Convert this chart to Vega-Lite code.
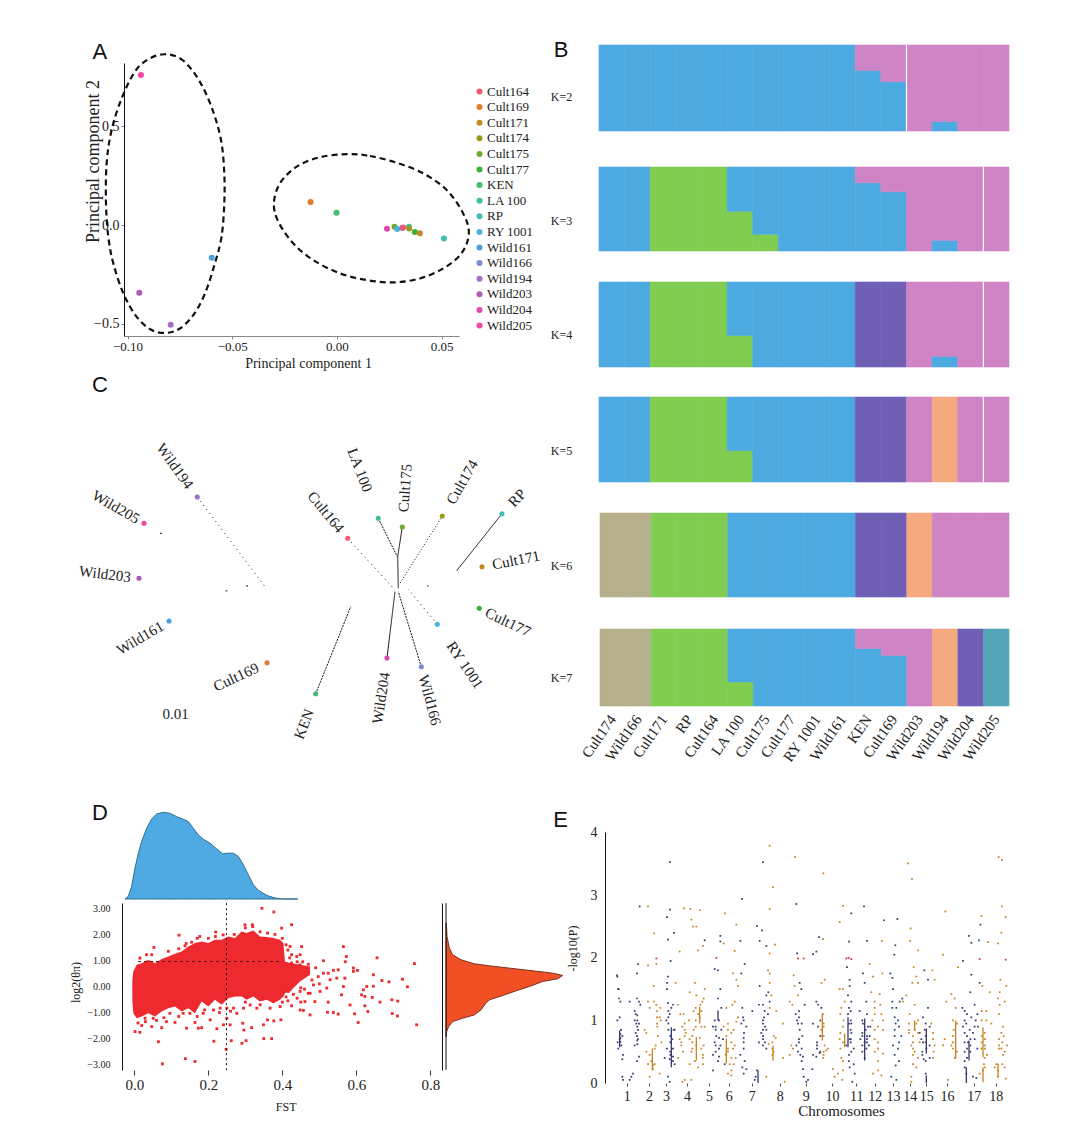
{
"$schema":"https://vega.github.io/schema/vega-lite/v6.json",
"width":1083,"height":1137,"padding":0,"autosize":{"type":"none"},"background":"white",
"config":{"view":{"stroke":null},"font":"Liberation Serif","axis":{"grid":false,"labelFont":"Liberation Serif","titleFont":"Liberation Serif","titleFontWeight":"normal","labelColor":"#222","titleColor":"#222"}},
"resolve":{"scale":{"x":"independent","y":"independent","color":"independent","stroke":"independent","strokeDash":"independent","angle":"independent"},"axis":{"x":"independent","y":"independent"},"legend":{"color":"independent"}},
"datasets":{
"pca":[
{"sample":"Wild205","pc1":-0.0936,"pc2":0.761},{"sample":"Wild161","pc1":-0.0598,"pc2":-0.166},{"sample":"Wild203","pc1":-0.0944,"pc2":-0.344},{"sample":"Wild194","pc1":-0.0794,"pc2":-0.506},{"sample":"Cult169","pc1":-0.0126,"pc2":0.117},{"sample":"KEN","pc1":-0.0002,"pc2":0.062},{"sample":"Wild204","pc1":0.0239,"pc2":-0.019},{"sample":"Cult175","pc1":0.0275,"pc2":-0.009},{"sample":"RY 1001","pc1":0.0288,"pc2":-0.02},{"sample":"Wild166","pc1":0.0312,"pc2":-0.015},{"sample":"Cult164","pc1":0.0316,"pc2":-0.012},{"sample":"LA 100","pc1":0.0344,"pc2":-0.009},{"sample":"Cult174","pc1":0.0345,"pc2":-0.017},{"sample":"Cult177","pc1":0.0372,"pc2":-0.036},{"sample":"Cult171","pc1":0.0396,"pc2":-0.042},{"sample":"RP","pc1":0.0511,"pc2":-0.068}],
"ellipses":[
{"e":"wild","i":0,"pc1":-0.0825,"pc2":0.8665},{"e":"wild","i":1,"pc1":-0.075,"pc2":0.846},{"e":"wild","i":2,"pc1":-0.0686,"pc2":0.778},{"e":"wild","i":3,"pc1":-0.063,"pc2":0.677},{"e":"wild","i":4,"pc1":-0.0583,"pc2":0.55},{"e":"wild","i":5,"pc1":-0.0551,"pc2":0.415},{"e":"wild","i":6,"pc1":-0.0538,"pc2":0.262},{"e":"wild","i":7,"pc1":-0.0538,"pc2":0.11},{"e":"wild","i":8,"pc1":-0.0551,"pc2":-0.059},{"e":"wild","i":9,"pc1":-0.0583,"pc2":-0.195},{"e":"wild","i":10,"pc1":-0.063,"pc2":-0.347},{"e":"wild","i":11,"pc1":-0.0686,"pc2":-0.457},{"e":"wild","i":12,"pc1":-0.075,"pc2":-0.525},{"e":"wild","i":13,"pc1":-0.0813,"pc2":-0.547},{"e":"wild","i":14,"pc1":-0.0885,"pc2":-0.533},{"e":"wild","i":15,"pc1":-0.0957,"pc2":-0.465},{"e":"wild","i":16,"pc1":-0.102,"pc2":-0.347},{"e":"wild","i":17,"pc1":-0.1068,"pc2":-0.195},{"e":"wild","i":18,"pc1":-0.1092,"pc2":-0.059},{"e":"wild","i":19,"pc1":-0.1103,"pc2":0.11},{"e":"wild","i":20,"pc1":-0.11,"pc2":0.313},{"e":"wild","i":21,"pc1":-0.1076,"pc2":0.482},{"e":"wild","i":22,"pc1":-0.1028,"pc2":0.643},{"e":"wild","i":23,"pc1":-0.0965,"pc2":0.778},{"e":"wild","i":24,"pc1":-0.0901,"pc2":0.841},
{"e":"cult","i":0,"pc1":0.0054,"pc2":0.36},{"e":"cult","i":1,"pc1":0.0158,"pc2":0.35},{"e":"cult","i":2,"pc1":0.0285,"pc2":0.316},{"e":"cult","i":3,"pc1":0.0412,"pc2":0.262},{"e":"cult","i":4,"pc1":0.0524,"pc2":0.178},{"e":"cult","i":5,"pc1":0.0603,"pc2":0.059},{"e":"cult","i":6,"pc1":0.063,"pc2":-0.042},{"e":"cult","i":7,"pc1":0.0595,"pc2":-0.144},{"e":"cult","i":8,"pc1":0.0508,"pc2":-0.22},{"e":"cult","i":9,"pc1":0.0396,"pc2":-0.271},{"e":"cult","i":10,"pc1":0.0269,"pc2":-0.291},{"e":"cult","i":11,"pc1":0.0142,"pc2":-0.279},{"e":"cult","i":12,"pc1":0.0014,"pc2":-0.245},{"e":"cult","i":13,"pc1":-0.0113,"pc2":-0.178},{"e":"cult","i":14,"pc1":-0.0209,"pc2":-0.093},{"e":"cult","i":15,"pc1":-0.028,"pc2":0.017},{"e":"cult","i":16,"pc1":-0.0301,"pc2":0.11},{"e":"cult","i":17,"pc1":-0.0272,"pc2":0.212},{"e":"cult","i":18,"pc1":-0.0192,"pc2":0.296},{"e":"cult","i":19,"pc1":-0.0081,"pc2":0.344}],
"treeTips":[
{"sample":"Wild194","x":127.3,"y":117,"tx":105,"ty":86},{"sample":"Wild205","x":74,"y":143.3,"tx":46,"ty":127},{"sample":"Wild203","x":69,"y":198.3,"tx":35,"ty":194},{"sample":"Wild161","x":99,"y":241,"tx":70,"ty":258},{"sample":"Cult169","x":197,"y":282.7,"tx":166,"ty":297},{"sample":"KEN","x":245.7,"y":313.7,"tx":234,"ty":344},{"sample":"Wild204","x":317,"y":278,"tx":311,"ty":318},{"sample":"Wild166","x":351.3,"y":286.7,"tx":360,"ty":320},{"sample":"RY 1001","x":367.3,"y":244.3,"tx":395,"ty":285},{"sample":"Cult177","x":409.3,"y":228.3,"tx":438,"ty":242},{"sample":"Cult171","x":412,"y":186.7,"tx":446,"ty":180},{"sample":"RP","x":432,"y":133.7,"tx":447,"ty":118},{"sample":"Cult174","x":372.3,"y":136,"tx":392,"ty":102},{"sample":"Cult175","x":332.3,"y":147,"tx":335,"ty":108},{"sample":"LA 100","x":308.3,"y":138.3,"tx":290,"ty":90},{"sample":"Cult164","x":277.7,"y":158.3,"tx":256,"ty":132}],
"treeBranches":[
{"b":"Wild194","o":0,"x":127.3,"y":117,"support":"low"},{"b":"Wild194","o":1,"x":195,"y":206.7,"support":"low"},
{"b":"Wild205","o":0,"x":90,"y":153.3,"support":"high"},{"b":"Wild205","o":1,"x":92,"y":153.3,"support":"high"},
{"b":"Wild203a","o":0,"x":155.5,"y":211,"support":"high"},{"b":"Wild203a","o":1,"x":157.5,"y":210.7,"support":"high"},
{"b":"Wild203b","o":0,"x":176,"y":206,"support":"high"},{"b":"Wild203b","o":1,"x":178,"y":206,"support":"high"},
{"b":"KEN","o":0,"x":245.7,"y":313.7,"support":"mid"},{"b":"KEN","o":1,"x":280.7,"y":226.7,"support":"mid"},
{"b":"RP","o":0,"x":432,"y":133.7,"support":"high"},{"b":"RP","o":1,"x":386.7,"y":190.7,"support":"high"},
{"b":"Cult164","o":0,"x":277.7,"y":158.3,"support":"low"},{"b":"Cult164","o":1,"x":325,"y":210,"support":"low"},
{"b":"LA 100","o":0,"x":308.3,"y":138.3,"support":"mid"},{"b":"LA 100","o":1,"x":327.3,"y":176.7,"support":"mid"},
{"b":"Cult175","o":0,"x":332.3,"y":147,"support":"high"},{"b":"Cult175","o":1,"x":327.7,"y":176.7,"support":"high"},{"b":"Cult175","o":2,"x":328.3,"y":208.3,"support":"high"},
{"b":"Cult174","o":0,"x":372.3,"y":136,"support":"fine"},{"b":"Cult174","o":1,"x":330,"y":203.3,"support":"fine"},
{"b":"Wild204","o":0,"x":317,"y":278,"support":"high"},{"b":"Wild204","o":1,"x":325,"y":211.7,"support":"high"},
{"b":"Wild166","o":0,"x":351.3,"y":286.7,"support":"mid"},{"b":"Wild166","o":1,"x":328.3,"y":211.7,"support":"mid"},
{"b":"RY 1001","o":0,"x":367.3,"y":244.3,"support":"low"},{"b":"RY 1001","o":1,"x":338.3,"y":209.3,"support":"low"},
{"b":"Cult171","o":0,"x":357,"y":206,"support":"high"},{"b":"Cult171","o":1,"x":358.5,"y":206,"support":"high"}],
"structure":[
{"K":2,"s":"Cult174","c":"C3","q":1},{"K":2,"s":"Wild166","c":"C3","q":1},{"K":2,"s":"Cult171","c":"C3","q":1},{"K":2,"s":"RP","c":"C3","q":1},{"K":2,"s":"Cult164","c":"C3","q":1},{"K":2,"s":"LA 100","c":"C3","q":1},{"K":2,"s":"Cult175","c":"C3","q":1},{"K":2,"s":"Cult177","c":"C3","q":1},{"K":2,"s":"RY 1001","c":"C3","q":1},{"K":2,"s":"Wild161","c":"C3","q":1},{"K":2,"s":"KEN","c":"C3","q":0.705},{"K":2,"s":"KEN","c":"C5","q":0.295},{"K":2,"s":"Cult169","c":"C3","q":0.574},{"K":2,"s":"Cult169","c":"C5","q":0.426},{"K":2,"s":"Wild203","c":"C5","q":1},{"K":2,"s":"Wild194","c":"C3","q":0.11},{"K":2,"s":"Wild194","c":"C5","q":0.89},{"K":2,"s":"Wild204","c":"C5","q":1},{"K":2,"s":"Wild205","c":"C5","q":1},
{"K":3,"s":"Cult174","c":"C3","q":1},{"K":3,"s":"Wild166","c":"C3","q":1},{"K":3,"s":"Cult171","c":"C2","q":1},{"K":3,"s":"RP","c":"C2","q":1},{"K":3,"s":"Cult164","c":"C2","q":1},{"K":3,"s":"LA 100","c":"C2","q":0.472},{"K":3,"s":"LA 100","c":"C3","q":0.528},{"K":3,"s":"Cult175","c":"C2","q":0.198},{"K":3,"s":"Cult175","c":"C3","q":0.802},{"K":3,"s":"Cult177","c":"C3","q":1},{"K":3,"s":"RY 1001","c":"C3","q":1},{"K":3,"s":"Wild161","c":"C3","q":1},{"K":3,"s":"KEN","c":"C3","q":0.813},{"K":3,"s":"KEN","c":"C5","q":0.187},{"K":3,"s":"Cult169","c":"C3","q":0.706},{"K":3,"s":"Cult169","c":"C5","q":0.294},{"K":3,"s":"Wild203","c":"C5","q":1},{"K":3,"s":"Wild194","c":"C3","q":0.127},{"K":3,"s":"Wild194","c":"C5","q":0.873},{"K":3,"s":"Wild204","c":"C5","q":1},{"K":3,"s":"Wild205","c":"C5","q":1},
{"K":4,"s":"Cult174","c":"C3","q":1},{"K":4,"s":"Wild166","c":"C3","q":1},{"K":4,"s":"Cult171","c":"C2","q":1},{"K":4,"s":"RP","c":"C2","q":1},{"K":4,"s":"Cult164","c":"C2","q":1},{"K":4,"s":"LA 100","c":"C2","q":0.37},{"K":4,"s":"LA 100","c":"C3","q":0.63},{"K":4,"s":"Cult175","c":"C3","q":1},{"K":4,"s":"Cult177","c":"C3","q":1},{"K":4,"s":"RY 1001","c":"C3","q":1},{"K":4,"s":"Wild161","c":"C3","q":1},{"K":4,"s":"KEN","c":"C4","q":1},{"K":4,"s":"Cult169","c":"C4","q":1},{"K":4,"s":"Wild203","c":"C5","q":1},{"K":4,"s":"Wild194","c":"C3","q":0.126},{"K":4,"s":"Wild194","c":"C5","q":0.874},{"K":4,"s":"Wild204","c":"C5","q":1},{"K":4,"s":"Wild205","c":"C5","q":1},
{"K":5,"s":"Cult174","c":"C3","q":1},{"K":5,"s":"Wild166","c":"C3","q":1},{"K":5,"s":"Cult171","c":"C2","q":1},{"K":5,"s":"RP","c":"C2","q":1},{"K":5,"s":"Cult164","c":"C2","q":1},{"K":5,"s":"LA 100","c":"C2","q":0.37},{"K":5,"s":"LA 100","c":"C3","q":0.63},{"K":5,"s":"Cult175","c":"C3","q":1},{"K":5,"s":"Cult177","c":"C3","q":1},{"K":5,"s":"RY 1001","c":"C3","q":1},{"K":5,"s":"Wild161","c":"C3","q":1},{"K":5,"s":"KEN","c":"C4","q":1},{"K":5,"s":"Cult169","c":"C4","q":1},{"K":5,"s":"Wild203","c":"C5","q":1},{"K":5,"s":"Wild194","c":"C6","q":1},{"K":5,"s":"Wild204","c":"C5","q":1},{"K":5,"s":"Wild205","c":"C5","q":1},
{"K":6,"s":"Cult174","c":"C1","q":1},{"K":6,"s":"Wild166","c":"C1","q":1},{"K":6,"s":"Cult171","c":"C2","q":1},{"K":6,"s":"RP","c":"C2","q":1},{"K":6,"s":"Cult164","c":"C2","q":1},{"K":6,"s":"LA 100","c":"C3","q":1},{"K":6,"s":"Cult175","c":"C3","q":1},{"K":6,"s":"Cult177","c":"C3","q":1},{"K":6,"s":"RY 1001","c":"C3","q":1},{"K":6,"s":"Wild161","c":"C3","q":1},{"K":6,"s":"KEN","c":"C4","q":1},{"K":6,"s":"Cult169","c":"C4","q":1},{"K":6,"s":"Wild203","c":"C6","q":1},{"K":6,"s":"Wild194","c":"C5","q":1},{"K":6,"s":"Wild204","c":"C5","q":1},{"K":6,"s":"Wild205","c":"C5","q":1},
{"K":7,"s":"Cult174","c":"C1","q":1},{"K":7,"s":"Wild166","c":"C1","q":1},{"K":7,"s":"Cult171","c":"C2","q":1},{"K":7,"s":"RP","c":"C2","q":1},{"K":7,"s":"Cult164","c":"C2","q":1},{"K":7,"s":"LA 100","c":"C2","q":0.313},{"K":7,"s":"LA 100","c":"C3","q":0.687},{"K":7,"s":"Cult175","c":"C3","q":1},{"K":7,"s":"Cult177","c":"C3","q":1},{"K":7,"s":"RY 1001","c":"C3","q":1},{"K":7,"s":"Wild161","c":"C3","q":1},{"K":7,"s":"KEN","c":"C3","q":0.748},{"K":7,"s":"KEN","c":"C5","q":0.252},{"K":7,"s":"Cult169","c":"C3","q":0.657},{"K":7,"s":"Cult169","c":"C5","q":0.343},{"K":7,"s":"Wild203","c":"C5","q":1},{"K":7,"s":"Wild194","c":"C6","q":1},{"K":7,"s":"Wild204","c":"C4","q":1},{"K":7,"s":"Wild205","c":"C7","q":1}],
"gaps":[{"K":2,"s":"Wild203"},{"K":3,"s":"Wild205"},{"K":4,"s":"Wild205"},{"K":5,"s":"Wild205"}],
"fstDensity":[{"f":0,"d":0},{"f":0.01,"d":0.08},{"f":0.02,"d":0.38},{"f":0.03,"d":0.93},{"f":0.04,"d":1.38},{"f":0.05,"d":1.73},{"f":0.065,"d":2.13},{"f":0.08,"d":2.41},{"f":0.095,"d":2.56},{"f":0.115,"d":2.61},{"f":0.135,"d":2.58},{"f":0.155,"d":2.48},{"f":0.175,"d":2.4},{"f":0.19,"d":2.33},{"f":0.205,"d":2.13},{"f":0.22,"d":1.93},{"f":0.235,"d":1.8},{"f":0.255,"d":1.68},{"f":0.275,"d":1.51},{"f":0.293,"d":1.36},{"f":0.31,"d":1.38},{"f":0.325,"d":1.38},{"f":0.34,"d":1.28},{"f":0.355,"d":1.03},{"f":0.37,"d":0.73},{"f":0.385,"d":0.43},{"f":0.4,"d":0.26},{"f":0.425,"d":0.11},{"f":0.45,"d":0.03},{"f":0.475,"d":0},{"f":0.518,"d":0}],
"ratioDensity":[{"r":2.436,"d":0.01},{"r":1.923,"d":0.03},{"r":1.474,"d":0.1},{"r":1.218,"d":0.2},{"r":1.026,"d":0.45},{"r":0.872,"d":0.85},{"r":0.795,"d":1.3},{"r":0.705,"d":1.9},{"r":0.603,"d":2.6},{"r":0.513,"d":3.2},{"r":0.423,"d":3.5},{"r":0.295,"d":3.35},{"r":0.192,"d":2.9},{"r":0,"d":2.5},{"r":-0.167,"d":2.1},{"r":-0.346,"d":1.7},{"r":-0.513,"d":1.3},{"r":-0.667,"d":1.18},{"r":-0.897,"d":1.05},{"r":-1.09,"d":0.85},{"r":-1.218,"d":0.5},{"r":-1.346,"d":0.2},{"r":-1.538,"d":0.08},{"r":-1.731,"d":0.02},{"r":-1.923,"d":0.01}],
"cloud":[{"f":-0.0054,"lo":-0.513,"hi":0.256},{"f":-0.0027,"lo":-1.026,"hi":0.577},{"f":0.0063,"lo":-1.218,"hi":0.833},{"f":0.0198,"lo":-1.154,"hi":0.897},{"f":0.0378,"lo":-1.026,"hi":1.026},{"f":0.0559,"lo":-1.154,"hi":0.897},{"f":0.0739,"lo":-0.962,"hi":1.051},{"f":0.0919,"lo":-0.833,"hi":1.154},{"f":0.1099,"lo":-0.769,"hi":1.256},{"f":0.1279,"lo":-0.962,"hi":1.346},{"f":0.1459,"lo":-0.833,"hi":1.538},{"f":0.164,"lo":-1.026,"hi":1.667},{"f":0.182,"lo":-0.577,"hi":1.731},{"f":0.2,"lo":-0.769,"hi":1.667},{"f":0.218,"lo":-0.513,"hi":1.795},{"f":0.236,"lo":-0.705,"hi":1.795},{"f":0.254,"lo":-0.449,"hi":1.923},{"f":0.272,"lo":-0.385,"hi":1.859},{"f":0.29,"lo":-0.385,"hi":2.115},{"f":0.3036,"lo":-0.513,"hi":2.051},{"f":0.3216,"lo":-0.385,"hi":2.154},{"f":0.3396,"lo":-0.577,"hi":1.923},{"f":0.3577,"lo":-0.513,"hi":1.897},{"f":0.3757,"lo":-0.641,"hi":1.859},{"f":0.3937,"lo":-0.513,"hi":1.795},{"f":0.4027,"lo":-0.385,"hi":1.667},{"f":0.4072,"lo":-0.256,"hi":0.962},{"f":0.4252,"lo":-0.128,"hi":0.897},{"f":0.4477,"lo":0.192,"hi":0.833},{"f":0.4748,"lo":0.449,"hi":0.769}],
"outliers":[{"f":0.345,"r":3.0},{"f":0.377,"r":2.86},{"f":0.121,"r":1.97},{"f":0.565,"r":1.53},{"f":0.573,"r":1.15},{"f":0.57,"r":0.95},{"f":0.656,"r":1.1},{"f":0.757,"r":0.88},{"f":0.511,"r":0.99},{"f":0.592,"r":0.71},{"f":0.603,"r":0.62},{"f":0.592,"r":0.58},{"f":0.646,"r":0.45},{"f":0.669,"r":0.23},{"f":0.688,"r":0.18},{"f":0.725,"r":0.28},{"f":0.738,"r":-0.01},{"f":0.646,"r":0.01},{"f":0.628,"r":0},{"f":0.619,"r":-0.13},{"f":0.614,"r":-0.32},{"f":0.623,"r":-0.38},{"f":0.643,"r":-0.42},{"f":0.664,"r":-0.6},{"f":0.696,"r":-0.51},{"f":0.712,"r":-0.56},{"f":0.697,"r":-1.04},{"f":0.711,"r":-1.13},{"f":0.623,"r":-0.74},{"f":0.631,"r":-0.96},{"f":0.605,"r":-1.38},{"f":0.595,"r":-1.05},{"f":0.583,"r":-0.71},{"f":0.763,"r":-1.47},{"f":0.551,"r":0.64},{"f":0.538,"r":0.62},{"f":0.524,"r":0.51},{"f":0.511,"r":0.51},{"f":0.497,"r":0.38},{"f":0.529,"r":0.26},{"f":0.547,"r":0.32},{"f":0.569,"r":0.32},{"f":0.565,"r":0},{"f":0.56,"r":-0.32},{"f":0.52,"r":-0.06},{"f":0.502,"r":-0.19},{"f":0.484,"r":0.06},{"f":0.475,"r":-0.26},{"f":0.488,"r":-0.58},{"f":0.461,"r":-0.58},{"f":0.457,"r":-0.92},{"f":0.475,"r":-1.09},{"f":0.524,"r":-0.6},{"f":0.522,"r":-0.99},{"f":0.538,"r":-1.0},{"f":0.551,"r":-1.06},{"f":0.421,"r":-0.13},{"f":0.407,"r":-0.13},{"f":0.416,"r":-0.19},{"f":0.448,"r":-0.19},{"f":0.425,"r":0.9},{"f":0.421,"r":1.54},{"f":0.452,"r":1.53},{"f":0.448,"r":1.22},{"f":0.425,"r":1.22},{"f":0.439,"r":1.15},{"f":0.425,"r":2.37},{"f":0.398,"r":2.24},{"f":0.319,"r":2.37},{"f":0.299,"r":2.37},{"f":0.22,"r":2.09},{"f":0.219,"r":1.92},{"f":0.177,"r":1.92},{"f":0.137,"r":1.56},{"f":0.092,"r":1.35},{"f":0.053,"r":1.5},{"f":0.047,"r":1.22},{"f":0.015,"r":1.09},{"f":0.033,"r":1.22},{"f":0.065,"r":-2.12},{"f":0.076,"r":-2.97},{"f":0.138,"r":-2.77},{"f":0.164,"r":-2.88},{"f":0.215,"r":-2.1},{"f":0.248,"r":-2.41},{"f":0.262,"r":-2.08},{"f":0.291,"r":-2.18},{"f":0.302,"r":-2.08},{"f":0.35,"r":-2.0},{"f":0.371,"r":-2.0},{"f":0.396,"r":-1.28},{"f":0.36,"r":-1.28},{"f":0.377,"r":-1.32},{"f":0.349,"r":-1.47},{"f":0.317,"r":-1.58},{"f":0.296,"r":-1.67},{"f":0.293,"r":-1.41},{"f":0.259,"r":-1.47},{"f":0.241,"r":-1.47},{"f":0.223,"r":-1.62},{"f":0.182,"r":-1.58},{"f":0.173,"r":-1.6},{"f":0.141,"r":-1.6},{"f":0.074,"r":-1.58},{"f":0.047,"r":-1.54},{"f":0.015,"r":-1.76},{"f":0.002,"r":-1.73},{"f":0.087,"r":-1.35},{"f":0.11,"r":-1.38},{"f":0.164,"r":-1.38},{"f":0.205,"r":-1.28},{"f":0.25,"r":-1.22},{"f":0.277,"r":-1.03},{"f":0.295,"r":-0.83},{"f":0.331,"r":-0.83},{"f":0.367,"r":-0.83},{"f":0.394,"r":-0.77},{"f":0.425,"r":-0.74},{"f":0.448,"r":-0.9},{"f":0.47,"r":-0.26},{"f":0.403,"r":-0.13},{"f":0.457,"r":0.71},{"f":0.47,"r":0.64},{"f":0.448,"r":0.83},{"f":0.029,"r":-1.22},{"f":0.051,"r":-1.22},{"f":0.096,"r":-1.03},{"f":0.132,"r":-1.03},{"f":0.15,"r":-1.03},{"f":0.186,"r":-1.03},{"f":0.214,"r":-0.9},{"f":0.232,"r":-0.83},{"f":0.25,"r":-0.83},{"f":0.268,"r":-0.83},{"f":0.313,"r":-0.71},{"f":0.376,"r":-0.58},{"f":0.389,"r":-0.26},{"f":0.12,"r":1.45},{"f":0.14,"r":1.65},{"f":0.155,"r":1.7},{"f":0.17,"r":1.85},{"f":0.2,"r":1.85},{"f":0.24,"r":1.98},{"f":0.27,"r":2.0},{"f":0.3,"r":2.25},{"f":0.32,"r":2.3},{"f":0.34,"r":2.1},{"f":0.36,"r":2.05},{"f":0.38,"r":2.0},{"f":0.4,"r":1.85},{"f":0.41,"r":1.6},{"f":0.415,"r":1.4},{"f":0.42,"r":1.1},{"f":0.44,"r":0.95},{"f":0.455,"r":0.95},{"f":0.47,"r":0.85},{"f":0.49,"r":0.72},{"f":0.41,"r":-0.4},{"f":0.43,"r":-0.3},{"f":0.45,"r":-0.05},{"f":0.46,"r":-0.1},{"f":0.48,"r":0.25},{"f":0.5,"r":0.1},{"f":0.44,"r":-0.45},{"f":0.45,"r":-0.6},{"f":0.415,"r":-0.55},{"f":0.4,"r":-0.6},{"f":0.03,"r":-1.35},{"f":0.01,"r":-1.4},{"f":0.02,"r":-1.5},{"f":0.06,"r":-1.3},{"f":0.08,"r":-1.2},{"f":0.12,"r":-1.15},{"f":0.17,"r":-1.15},{"f":0.19,"r":-0.9},{"f":0.23,"r":-1.0},{"f":0.26,"r":-0.95},{"f":0.3,"r":-0.6},{"f":0.34,"r":-0.7}],
"snpStreaks":[{"p":308,"v":0.55,"v2":0.2,"g":"o"},{"p":530,"v":0.71,"v2":0.31,"g":"o"},{"p":450,"v":1.22,"v2":0.95,"g":"o"},{"p":1218,"v":1.0,"v2":0.39,"g":"o"},{"p":885,"v":0.79,"v2":0.57,"g":"o"},{"p":818,"v":1.11,"v2":0.68,"g":"o"},{"p":1300,"v":0.89,"v2":0.41,"g":"o"},{"p":895,"v":1.05,"v2":0.57,"g":"n"},{"p":210,"v":0.84,"v2":0.57,"g":"n"},{"p":505,"v":1.16,"v2":1.0,"g":"n"},{"p":625,"v":0.2,"v2":0,"g":"n"},{"p":1250,"v":0.25,"v2":0,"g":"n"},{"p":1130,"v":0.12,"v2":0,"g":"n"},{"p":1345,"v":0.31,"v2":0.09,"g":"o"},{"p":365,"v":0.89,"v2":0.25,"g":"n"},{"p":1130,"v":0.87,"v2":0.47,"g":"n"},{"p":945,"v":1.03,"v2":0.36,"g":"n"},{"p":1258,"v":0.68,"v2":0.36,"g":"n"},{"p":1095,"v":1.0,"v2":0.84,"g":"o"},{"p":440,"v":0.73,"v2":0.36,"g":"o"},{"p":670,"v":0.6,"v2":0.36,"g":"o"},{"p":1300,"v":0.25,"v2":0.01,"g":"o"}],
"snps":[
{"p":660,"v":3.79,"g":"o"},{"p":640,"v":3.53,"g":"n"},{"p":736,"v":3.61,"g":"o"},{"p":361,"v":3.53,"g":"n"},{"p":821,"v":3.35,"g":"o"},{"p":1075,"v":3.51,"g":"o"},{"p":1087,"v":3.26,"g":"o"},{"p":1347,"v":3.61,"g":"o"},{"p":1357,"v":3.56,"g":"o"},{"p":670,"v":3.13,"g":"o"},{"p":577,"v":2.94,"g":"n"},{"p":270,"v":2.82,"g":"n"},{"p":295,"v":2.82,"g":"o"},{"p":361,"v":2.77,"g":"n"},{"p":403,"v":2.79,"g":"o"},{"p":422,"v":2.78,"g":"o"},{"p":451,"v":2.76,"g":"o"},{"p":526,"v":2.71,"g":"o"},{"p":660,"v":2.78,"g":"o"},{"p":740,"v":2.86,"g":"n"},{"p":880,"v":2.83,"g":"o"},{"p":943,"v":2.82,"g":"n"},{"p":905,"v":2.71,"g":"n"},{"p":1187,"v":2.74,"g":"o"},{"p":1357,"v":2.82,"g":"o"},{"p":1368,"v":2.65,"g":"o"},{"p":1295,"v":2.67,"g":"o"},{"p":352,"v":2.65,"g":"n"},{"p":1003,"v":2.6,"g":"n"},{"p":1043,"v":2.62,"g":"n"},{"p":870,"v":2.57,"g":"o"},{"p":425,"v":2.61,"g":"o"},{"p":622,"v":2.51,"g":"n"},{"p":560,"v":2.53,"g":"o"},{"p":430,"v":2.5,"g":"o"},{"p":440,"v":2.5,"g":"o"},{"p":1083,"v":2.47,"g":"o"},{"p":1292,"v":2.53,"g":"n"},{"p":637,"v":2.44,"g":"n"},{"p":373,"v":2.4,"g":"n"},{"p":313,"v":2.39,"g":"o"},{"p":512,"v":2.35,"g":"n"},{"p":1355,"v":2.4,"g":"o"},{"p":1258,"v":2.35,"g":"n"},{"p":808,"v":2.33,"g":"n"},{"p":820,"v":2.3,"g":"o"},{"p":355,"v":2.29,"g":"n"},{"p":465,"v":2.28,"g":"n"},{"p":512,"v":2.26,"g":"n"},{"p":522,"v":2.23,"g":"o"},{"p":572,"v":2.27,"g":"n"},{"p":630,"v":2.27,"g":"n"},{"p":898,"v":2.26,"g":"n"},{"p":952,"v":2.27,"g":"n"},{"p":997,"v":2.27,"g":"o"},{"p":1081,"v":2.27,"g":"o"},{"p":1288,"v":2.28,"g":"n"},{"p":1265,"v":2.24,"g":"n"},{"p":1315,"v":2.25,"g":"o"},{"p":1037,"v":2.2,"g":"n"},{"p":676,"v":2.21,"g":"o"},{"p":650,"v":2.19,"g":"n"},{"p":460,"v":2.19,"g":"o"},{"p":1345,"v":2.23,"g":"o"},{"p":445,"v":2.12,"g":"o"},{"p":1105,"v":2.12,"g":"o"},{"p":800,"v":2.1,"g":"n"},{"p":555,"v":2.11,"g":"o"},{"p":390,"v":2.1,"g":"o"},{"p":660,"v":2.07,"g":"o"},{"p":1180,"v":2.05,"g":"o"},{"p":790,"v":2.06,"g":"n"},{"p":742,"v":2.07,"g":"n"},{"p":1034,"v":2.05,"g":"n"},
{"p":745,"v":1.99,"g":"r"},{"p":762,"v":1.99,"g":"r"},{"p":320,"v":1.99,"g":"r"},{"p":897,"v":2.0,"g":"r"},{"p":905,"v":1.98,"g":"r"},{"p":1290,"v":1.98,"g":"r"},{"p":1368,"v":1.97,"g":"r"},{"p":500,"v":2.0,"g":"r"},{"p":890,"v":1.99,"g":"r"},
{"p":203,"v":1.7,"g":"n"},{"p":207,"v":1.5,"g":"n"},{"p":212,"v":1.3,"g":"n"},{"p":208,"v":1.35,"g":"n"},{"p":205,"v":1.5,"g":"n"},{"p":203,"v":1.0,"g":"n"},{"p":210,"v":1.05,"g":"n"},{"p":214,"v":0.85,"g":"n"},{"p":218,"v":0.75,"g":"n"},{"p":204,"v":0.65,"g":"n"},{"p":210,"v":0.7,"g":"n"},{"p":215,"v":0.6,"g":"n"},{"p":206,"v":0.55,"g":"n"},{"p":220,"v":0.45,"g":"n"},{"p":218,"v":0.38,"g":"n"},{"p":218,"v":0.1,"g":"n"},{"p":220,"v":0.05,"g":"n"},{"p":202,"v":1.72,"g":"n"},
{"p":240,"v":1.3,"g":"n"},{"p":255,"v":1.15,"g":"n"},{"p":262,"v":1.35,"g":"n"},{"p":268,"v":1.3,"g":"n"},{"p":255,"v":1.0,"g":"n"},{"p":260,"v":0.95,"g":"n"},{"p":265,"v":0.85,"g":"n"},{"p":258,"v":0.8,"g":"n"},{"p":268,"v":0.95,"g":"n"},{"p":262,"v":0.75,"g":"n"},{"p":255,"v":0.6,"g":"n"},{"p":268,"v":0.42,"g":"n"},{"p":262,"v":0.35,"g":"n"},{"p":250,"v":0.15,"g":"n"},{"p":245,"v":0.1,"g":"n"},{"p":240,"v":0.05,"g":"n"},{"p":265,"v":1.9,"g":"n"},{"p":262,"v":1.75,"g":"n"},{"p":265,"v":0.7,"g":"n"},{"p":272,"v":1.25,"g":"n"},{"p":258,"v":1.1,"g":"n"},
{"p":285,"v":0.85,"g":"o"},{"p":290,"v":0.8,"g":"o"},{"p":295,"v":1.3,"g":"o"},{"p":300,"v":1.2,"g":"o"},{"p":290,"v":0.5,"g":"o"},{"p":300,"v":0.45,"g":"o"},{"p":295,"v":0.3,"g":"o"},{"p":305,"v":0.35,"g":"o"},{"p":315,"v":0.55,"g":"o"},{"p":318,"v":0.6,"g":"o"},{"p":323,"v":0.9,"g":"o"},{"p":330,"v":1.05,"g":"o"},{"p":320,"v":1.25,"g":"o"},{"p":333,"v":1.0,"g":"o"},{"p":325,"v":0.75,"g":"o"},{"p":335,"v":0.65,"g":"o"},{"p":300,"v":0.1,"g":"o"},{"p":315,"v":0.3,"g":"o"},{"p":330,"v":0.15,"g":"o"},{"p":313,"v":1.3,"g":"o"},{"p":332,"v":1.2,"g":"o"},{"p":295,"v":1.88,"g":"o"},{"p":312,"v":1.55,"g":"o"},{"p":320,"v":1.9,"g":"o"},
{"p":352,"v":1.5,"g":"n"},{"p":355,"v":1.28,"g":"n"},{"p":365,"v":1.2,"g":"n"},{"p":370,"v":1.25,"g":"n"},{"p":360,"v":1.1,"g":"n"},{"p":350,"v":1.0,"g":"n"},{"p":375,"v":0.85,"g":"n"},{"p":368,"v":0.7,"g":"n"},{"p":352,"v":0.55,"g":"n"},{"p":360,"v":0.38,"g":"n"},{"p":375,"v":0.3,"g":"n"},{"p":355,"v":0.1,"g":"n"},{"p":360,"v":0.02,"g":"n"},{"p":352,"v":1.6,"g":"n"},{"p":378,"v":1.6,"g":"o"},{"p":372,"v":0.85,"g":"n"},{"p":356,"v":0.85,"g":"n"},{"p":345,"v":0.4,"g":"n"},{"p":363,"v":1.95,"g":"n"},{"p":355,"v":1.7,"g":"n"},
{"p":385,"v":1.25,"g":"o"},{"p":392,"v":1.1,"g":"o"},{"p":398,"v":0.9,"g":"o"},{"p":390,"v":0.7,"g":"o"},{"p":400,"v":0.5,"g":"o"},{"p":405,"v":0.05,"g":"o"},{"p":398,"v":0.02,"g":"o"},{"p":425,"v":0.05,"g":"o"},{"p":420,"v":0.3,"g":"o"},{"p":425,"v":0.5,"g":"o"},{"p":440,"v":0.6,"g":"o"},{"p":450,"v":0.72,"g":"o"},{"p":432,"v":0.85,"g":"o"},{"p":445,"v":1.1,"g":"o"},{"p":420,"v":1.45,"g":"o"},{"p":436,"v":1.6,"g":"o"},{"p":440,"v":1.4,"g":"o"},{"p":452,"v":1.25,"g":"o"},{"p":462,"v":1.35,"g":"o"},{"p":465,"v":1.5,"g":"o"},{"p":458,"v":1.3,"g":"o"},{"p":436,"v":0.35,"g":"o"},{"p":445,"v":0.25,"g":"o"},{"p":462,"v":0.6,"g":"o"},{"p":465,"v":0.9,"g":"o"},{"p":418,"v":1.0,"g":"o"},{"p":408,"v":0.8,"g":"o"},{"p":385,"v":0.4,"g":"o"},{"p":432,"v":1.15,"g":"o"},{"p":420,"v":0.7,"g":"o"},{"p":450,"v":1.05,"g":"o"},{"p":402,"v":1.1,"g":"o"},
{"p":490,"v":0.9,"g":"n"},{"p":495,"v":1.0,"g":"n"},{"p":505,"v":1.35,"g":"n"},{"p":512,"v":1.5,"g":"n"},{"p":515,"v":1.2,"g":"n"},{"p":508,"v":1.0,"g":"n"},{"p":500,"v":0.75,"g":"n"},{"p":512,"v":0.6,"g":"n"},{"p":490,"v":0.45,"g":"n"},{"p":505,"v":0.35,"g":"n"},{"p":520,"v":0.7,"g":"n"},{"p":495,"v":1.82,"g":"n"},{"p":505,"v":1.8,"g":"n"},{"p":495,"v":0.65,"g":"n"},{"p":515,"v":0.85,"g":"n"},{"p":490,"v":0.2,"g":"n"},{"p":525,"v":0.3,"g":"n"},
{"p":522,"v":0.9,"g":"o"},{"p":530,"v":0.75,"g":"o"},{"p":540,"v":0.3,"g":"o"},{"p":550,"v":0.55,"g":"o"},{"p":535,"v":0.15,"g":"o"},{"p":545,"v":0.12,"g":"o"},{"p":555,"v":0.6,"g":"o"},{"p":560,"v":0.98,"g":"o"},{"p":565,"v":1.05,"g":"o"},{"p":555,"v":1.3,"g":"o"},{"p":530,"v":1.2,"g":"o"},{"p":550,"v":1.75,"g":"o"},{"p":560,"v":1.65,"g":"o"},{"p":548,"v":1.25,"g":"o"},{"p":565,"v":1.55,"g":"o"},{"p":528,"v":0.45,"g":"o"},{"p":558,"v":0.4,"g":"o"},
{"p":580,"v":1.05,"g":"n"},{"p":575,"v":0.95,"g":"n"},{"p":583,"v":0.8,"g":"n"},{"p":590,"v":0.9,"g":"n"},{"p":572,"v":0.45,"g":"n"},{"p":585,"v":0.35,"g":"n"},{"p":578,"v":0.25,"g":"n"},{"p":590,"v":0.22,"g":"n"},{"p":585,"v":1.9,"g":"n"},{"p":575,"v":1.75,"g":"n"},{"p":578,"v":1.2,"g":"n"},{"p":582,"v":0.15,"g":"n"},{"p":608,"v":1.15,"g":"n"},{"p":615,"v":0.05,"g":"n"},{"p":618,"v":0.1,"g":"n"},{"p":622,"v":0.2,"g":"n"},{"p":628,"v":1.25,"g":"n"},
{"p":630,"v":1.55,"g":"n"},{"p":640,"v":1.25,"g":"n"},{"p":645,"v":1.15,"g":"n"},{"p":640,"v":1.0,"g":"n"},{"p":650,"v":0.85,"g":"n"},{"p":628,"v":0.65,"g":"n"},{"p":640,"v":0.6,"g":"n"},{"p":650,"v":0.55,"g":"n"},{"p":635,"v":0.8,"g":"n"},{"p":655,"v":1.1,"g":"n"},{"p":660,"v":1.3,"g":"n"},{"p":650,"v":1.4,"g":"n"},{"p":656,"v":1.45,"g":"n"},{"p":643,"v":1.05,"g":"n"},
{"p":660,"v":1.6,"g":"o"},{"p":655,"v":1.8,"g":"o"},{"p":660,"v":1.75,"g":"o"},{"p":672,"v":0.75,"g":"o"},{"p":678,"v":0.72,"g":"o"},{"p":657,"v":0.62,"g":"o"},{"p":672,"v":0.5,"g":"o"},{"p":660,"v":1.2,"g":"o"},{"p":680,"v":1.15,"g":"o"},{"p":665,"v":1.4,"g":"o"},{"p":650,"v":0.1,"g":"o"},{"p":705,"v":0.02,"g":"o"},{"p":700,"v":0.4,"g":"o"},{"p":700,"v":0.95,"g":"o"},
{"p":720,"v":1.3,"g":"o"},{"p":725,"v":0.6,"g":"o"},{"p":730,"v":0.55,"g":"o"},{"p":732,"v":1.72,"g":"o"},{"p":735,"v":1.55,"g":"o"},{"p":728,"v":1.25,"g":"o"},{"p":720,"v":0.45,"g":"o"},{"p":745,"v":1.4,"g":"o"},
{"p":738,"v":1.1,"g":"n"},{"p":742,"v":1.0,"g":"n"},{"p":745,"v":0.95,"g":"n"},{"p":755,"v":1.5,"g":"n"},{"p":750,"v":0.85,"g":"n"},{"p":758,"v":0.75,"g":"n"},{"p":745,"v":0.5,"g":"n"},{"p":752,"v":0.45,"g":"n"},{"p":760,"v":0.42,"g":"n"},{"p":760,"v":0.22,"g":"n"},{"p":762,"v":0.1,"g":"n"},{"p":770,"v":0.02,"g":"n"},{"p":765,"v":1.25,"g":"n"},{"p":750,"v":1.6,"g":"n"},{"p":775,"v":0.05,"g":"n"},{"p":740,"v":0.6,"g":"n"},
{"p":790,"v":0.45,"g":"n"},{"p":800,"v":0.42,"g":"n"},{"p":810,"v":0.48,"g":"n"},{"p":800,"v":1.3,"g":"n"},{"p":805,"v":1.25,"g":"n"},{"p":815,"v":1.2,"g":"n"},{"p":790,"v":0.95,"g":"n"},{"p":805,"v":0.9,"g":"n"},{"p":788,"v":0.22,"g":"n"},
{"p":820,"v":1.1,"g":"o"},{"p":815,"v":0.85,"g":"o"},{"p":825,"v":0.6,"g":"o"},{"p":830,"v":0.52,"g":"o"},{"p":820,"v":0.4,"g":"o"},{"p":825,"v":1.65,"g":"o"},{"p":815,"v":1.6,"g":"o"},{"p":835,"v":0.55,"g":"o"},{"p":850,"v":0.22,"g":"o"},{"p":855,"v":0.1,"g":"o"},{"p":865,"v":0.15,"g":"o"},{"p":880,"v":0.2,"g":"o"},{"p":878,"v":0.05,"g":"o"},{"p":870,"v":1.5,"g":"o"},{"p":880,"v":1.5,"g":"o"},{"p":885,"v":1.3,"g":"o"},{"p":875,"v":1.2,"g":"o"},{"p":882,"v":1.0,"g":"o"},{"p":870,"v":0.7,"g":"o"},{"p":880,"v":0.9,"g":"o"},{"p":875,"v":0.4,"g":"o"},
{"p":900,"v":1.65,"g":"n"},{"p":895,"v":1.4,"g":"n"},{"p":905,"v":1.3,"g":"n"},{"p":895,"v":1.1,"g":"n"},{"p":905,"v":0.8,"g":"n"},{"p":900,"v":0.7,"g":"n"},{"p":890,"v":0.6,"g":"n"},{"p":905,"v":0.5,"g":"n"},{"p":900,"v":0.25,"g":"n"},{"p":915,"v":0.15,"g":"n"},{"p":908,"v":0.02,"g":"n"},{"p":892,"v":1.85,"g":"n"},{"p":900,"v":1.55,"g":"n"},{"p":905,"v":0.95,"g":"n"},
{"p":940,"v":1.75,"g":"n"},{"p":945,"v":1.6,"g":"n"},{"p":950,"v":1.3,"g":"n"},{"p":930,"v":1.15,"g":"n"},{"p":940,"v":0.95,"g":"n"},{"p":955,"v":0.9,"g":"n"},{"p":932,"v":0.7,"g":"n"},{"p":945,"v":0.65,"g":"n"},{"p":960,"v":0.75,"g":"n"},{"p":950,"v":0.55,"g":"n"},{"p":945,"v":0.4,"g":"n"},{"p":938,"v":1.0,"g":"n"},{"p":948,"v":0.85,"g":"n"},{"p":958,"v":0.6,"g":"n"},
{"p":960,"v":1.9,"g":"o"},{"p":970,"v":1.7,"g":"o"},{"p":965,"v":1.45,"g":"o"},{"p":975,"v":1.3,"g":"o"},{"p":990,"v":1.42,"g":"o"},{"p":995,"v":1.1,"g":"o"},{"p":968,"v":1.0,"g":"o"},{"p":985,"v":0.9,"g":"o"},{"p":975,"v":0.5,"g":"o"},{"p":1000,"v":0.47,"g":"o"},{"p":985,"v":0.2,"g":"o"},{"p":970,"v":0.15,"g":"o"},{"p":995,"v":0.12,"g":"o"},{"p":998,"v":1.75,"g":"o"},{"p":992,"v":1.25,"g":"o"},
{"p":1022,"v":1.75,"g":"n"},{"p":1030,"v":1.5,"g":"n"},{"p":1040,"v":1.2,"g":"n"},{"p":1045,"v":1.0,"g":"n"},{"p":1050,"v":1.3,"g":"n"},{"p":1038,"v":0.95,"g":"n"},{"p":1055,"v":0.75,"g":"n"},{"p":1030,"v":0.6,"g":"n"},{"p":1045,"v":0.55,"g":"n"},{"p":1025,"v":0.1,"g":"n"},{"p":1038,"v":0.28,"g":"n"},{"p":1040,"v":0.05,"g":"n"},{"p":1058,"v":1.35,"g":"n"},{"p":1035,"v":1.05,"g":"n"},{"p":1028,"v":1.68,"g":"n"},
{"p":1070,"v":1.4,"g":"o"},{"p":1060,"v":1.3,"g":"o"},{"p":1080,"v":1.1,"g":"o"},{"p":1095,"v":0.85,"g":"o"},{"p":1100,"v":0.95,"g":"o"},{"p":1085,"v":0.6,"g":"o"},{"p":1095,"v":0.5,"g":"o"},{"p":1110,"v":0.65,"g":"o"},{"p":1085,"v":0.1,"g":"o"},{"p":1100,"v":0.25,"g":"o"},{"p":1088,"v":1.6,"g":"o"},{"p":1100,"v":1.7,"g":"o"},{"p":1095,"v":1.25,"g":"o"},{"p":1092,"v":1.85,"g":"o"},{"p":1105,"v":1.6,"g":"o"},{"p":1085,"v":0.02,"g":"o"},
{"p":1120,"v":1.05,"g":"n"},{"p":1135,"v":1.2,"g":"n"},{"p":1125,"v":0.85,"g":"n"},{"p":1110,"v":0.8,"g":"n"},{"p":1140,"v":0.9,"g":"n"},{"p":1120,"v":0.65,"g":"n"},{"p":1130,"v":0.55,"g":"n"},{"p":1122,"v":0.38,"g":"n"},{"p":1128,"v":0.15,"g":"n"},{"p":1124,"v":1.8,"g":"n"},{"p":1115,"v":0.7,"g":"n"},{"p":1135,"v":1.65,"g":"n"},
{"p":1152,"v":0.5,"g":"o"},{"p":1155,"v":0.6,"g":"o"},{"p":1148,"v":1.8,"g":"o"},{"p":1155,"v":1.65,"g":"o"},{"p":1145,"v":0.95,"g":"o"},{"p":1185,"v":0.7,"g":"o"},{"p":1180,"v":0.6,"g":"o"},{"p":1190,"v":1.3,"g":"o"},{"p":1205,"v":1.42,"g":"o"},{"p":1215,"v":1.35,"g":"o"},{"p":1218,"v":1.2,"g":"o"},{"p":1225,"v":1.85,"g":"o"},{"p":1212,"v":0.85,"g":"o"},{"p":1205,"v":0.6,"g":"o"},{"p":1215,"v":0.4,"g":"o"},{"p":1195,"v":0.05,"g":"o"},
{"p":1238,"v":1.2,"g":"n"},{"p":1245,"v":1.15,"g":"n"},{"p":1250,"v":0.95,"g":"n"},{"p":1240,"v":0.9,"g":"n"},{"p":1260,"v":0.85,"g":"n"},{"p":1265,"v":1.05,"g":"n"},{"p":1270,"v":0.8,"g":"n"},{"p":1255,"v":0.65,"g":"n"},{"p":1245,"v":0.5,"g":"n"},{"p":1250,"v":0.15,"g":"n"},{"p":1262,"v":1.45,"g":"n"},{"p":1240,"v":1.95,"g":"n"},{"p":1278,"v":1.0,"g":"n"},{"p":1285,"v":0.9,"g":"n"},{"p":1270,"v":0.1,"g":"n"},{"p":1280,"v":0.08,"g":"n"},{"p":1265,"v":1.73,"g":"n"},{"p":1290,"v":1.6,"g":"n"},
{"p":1298,"v":1.55,"g":"o"},{"p":1310,"v":1.15,"g":"o"},{"p":1305,"v":0.8,"g":"o"},{"p":1295,"v":0.55,"g":"o"},{"p":1312,"v":0.45,"g":"o"},{"p":1305,"v":0.4,"g":"o"},{"p":1300,"v":0.2,"g":"o"},{"p":1320,"v":1.45,"g":"o"},{"p":1310,"v":1.0,"g":"o"},{"p":1303,"v":0.3,"g":"o"},{"p":1290,"v":0.15,"g":"o"},{"p":1335,"v":0.25,"g":"o"},{"p":1345,"v":0.1,"g":"o"},{"p":1350,"v":1.25,"g":"o"},{"p":1355,"v":0.55,"g":"o"},{"p":1360,"v":0.45,"g":"o"},{"p":1372,"v":0.6,"g":"o"},{"p":1362,"v":0.75,"g":"o"},{"p":1368,"v":0.07,"g":"o"},{"p":1340,"v":0.3,"g":"o"},{"p":1325,"v":0.95,"g":"o"},{"p":1345,"v":1.35,"g":"o"},{"p":1352,"v":1.65,"g":"o"},{"p":1360,"v":0.9,"g":"o"},{"p":1350,"v":1.45,"g":"o"},{"p":1365,"v":1.3,"g":"o"},{"p":1370,"v":1.55,"g":"o"},{"p":1345,"v":0.2,"g":"o"},{"p":1355,"v":0.8,"g":"o"},
{"p":212,"v":0.72,"g":"n"},{"p":212,"v":0.78,"g":"n"},{"p":212,"v":0.66,"g":"n"},{"p":263,"v":0.62,"g":"n"},{"p":263,"v":0.68,"g":"n"},{"p":263,"v":0.9,"g":"n"},{"p":263,"v":1.0,"g":"n"},{"p":263,"v":1.08,"g":"n"},{"p":356,"v":1.15,"g":"n"},{"p":356,"v":1.05,"g":"n"},{"p":356,"v":0.95,"g":"n"},{"p":362,"v":0.75,"g":"n"},{"p":362,"v":0.65,"g":"n"},{"p":362,"v":0.5,"g":"n"},{"p":362,"v":0.45,"g":"n"},{"p":370,"v":0.55,"g":"n"},{"p":370,"v":0.42,"g":"n"},{"p":370,"v":0.35,"g":"n"},
{"p":310,"v":0.22,"g":"o"},{"p":310,"v":0.28,"g":"o"},{"p":322,"v":0.95,"g":"o"},{"p":322,"v":1.05,"g":"o"},{"p":322,"v":1.15,"g":"o"},{"p":395,"v":0.6,"g":"o"},{"p":395,"v":0.65,"g":"o"},{"p":405,"v":0.75,"g":"o"},{"p":405,"v":0.85,"g":"o"},{"p":405,"v":0.95,"g":"o"},{"p":428,"v":0.55,"g":"o"},{"p":428,"v":0.65,"g":"o"},{"p":428,"v":0.75,"g":"o"},{"p":438,"v":0.9,"g":"o"},{"p":438,"v":1.0,"g":"o"},{"p":438,"v":1.2,"g":"o"},{"p":455,"v":0.55,"g":"o"},{"p":455,"v":0.9,"g":"o"},{"p":455,"v":1.15,"g":"o"},{"p":460,"v":0.45,"g":"o"},{"p":460,"v":0.4,"g":"o"},{"p":460,"v":0.3,"g":"o"},
{"p":498,"v":0.9,"g":"n"},{"p":498,"v":0.85,"g":"n"},{"p":498,"v":0.6,"g":"n"},{"p":498,"v":0.5,"g":"n"},{"p":508,"v":0.72,"g":"n"},{"p":508,"v":0.55,"g":"n"},{"p":508,"v":0.42,"g":"n"},
{"p":535,"v":0.5,"g":"o"},{"p":535,"v":0.55,"g":"o"},{"p":535,"v":0.85,"g":"o"},{"p":535,"v":0.95,"g":"o"},{"p":545,"v":0.4,"g":"o"},{"p":545,"v":0.65,"g":"o"},{"p":545,"v":0.8,"g":"o"},{"p":545,"v":0.2,"g":"o"},{"p":552,"v":0.3,"g":"o"},{"p":552,"v":0.85,"g":"o"},
{"p":582,"v":0.65,"g":"n"},{"p":582,"v":0.72,"g":"n"},{"p":582,"v":1.0,"g":"n"},{"p":582,"v":0.55,"g":"n"},{"p":640,"v":0.85,"g":"n"},{"p":640,"v":0.75,"g":"n"},{"p":640,"v":0.7,"g":"n"},{"p":640,"v":0.95,"g":"n"},{"p":646,"v":0.65,"g":"n"},{"p":646,"v":0.9,"g":"n"},
{"p":668,"v":0.55,"g":"o"},{"p":668,"v":0.45,"g":"o"},{"p":668,"v":0.65,"g":"o"},
{"p":748,"v":0.7,"g":"n"},{"p":748,"v":0.65,"g":"n"},{"p":748,"v":1.15,"g":"n"},{"p":748,"v":1.05,"g":"n"},{"p":756,"v":0.95,"g":"n"},{"p":756,"v":0.55,"g":"n"},{"p":756,"v":0.35,"g":"n"},{"p":802,"v":0.6,"g":"n"},{"p":802,"v":0.55,"g":"n"},{"p":802,"v":0.65,"g":"n"},{"p":812,"v":0.5,"g":"n"},{"p":812,"v":0.75,"g":"n"},{"p":812,"v":1.0,"g":"n"},
{"p":822,"v":0.75,"g":"o"},{"p":822,"v":0.9,"g":"o"},{"p":822,"v":0.95,"g":"o"},{"p":822,"v":0.5,"g":"o"},{"p":822,"v":0.45,"g":"o"},{"p":872,"v":0.55,"g":"o"},{"p":872,"v":0.8,"g":"o"},{"p":872,"v":1.1,"g":"o"},{"p":880,"v":0.35,"g":"o"},{"p":880,"v":0.65,"g":"o"},
{"p":898,"v":0.45,"g":"n"},{"p":898,"v":0.35,"g":"n"},{"p":898,"v":0.95,"g":"n"},{"p":898,"v":1.2,"g":"n"},{"p":903,"v":0.7,"g":"n"},{"p":903,"v":0.65,"g":"n"},{"p":903,"v":1.15,"g":"n"},{"p":903,"v":0.85,"g":"n"},{"p":903,"v":1.0,"g":"n"},{"p":912,"v":0.3,"g":"n"},{"p":912,"v":0.55,"g":"n"},{"p":938,"v":0.8,"g":"n"},{"p":938,"v":0.75,"g":"n"},{"p":938,"v":0.6,"g":"n"},{"p":938,"v":0.5,"g":"n"},{"p":952,"v":0.7,"g":"n"},{"p":952,"v":0.65,"g":"n"},{"p":952,"v":0.75,"g":"n"},{"p":952,"v":1.1,"g":"n"},{"p":962,"v":0.9,"g":"n"},
{"p":975,"v":0.7,"g":"o"},{"p":975,"v":0.85,"g":"o"},{"p":975,"v":1.1,"g":"o"},{"p":975,"v":1.2,"g":"o"},{"p":985,"v":0.65,"g":"o"},{"p":985,"v":0.55,"g":"o"},{"p":985,"v":0.35,"g":"o"},{"p":1000,"v":0.85,"g":"o"},{"p":1000,"v":1.0,"g":"o"},
{"p":1035,"v":0.85,"g":"n"},{"p":1035,"v":0.75,"g":"n"},{"p":1035,"v":0.45,"g":"n"},{"p":1048,"v":0.9,"g":"n"},{"p":1048,"v":0.65,"g":"n"},{"p":1048,"v":0.35,"g":"n"},{"p":1028,"v":1.2,"g":"n"},{"p":1028,"v":1.3,"g":"n"},
{"p":1078,"v":0.95,"g":"o"},{"p":1078,"v":0.85,"g":"o"},{"p":1078,"v":0.8,"g":"o"},{"p":1090,"v":0.75,"g":"o"},{"p":1090,"v":0.65,"g":"o"},{"p":1090,"v":0.55,"g":"o"},{"p":1090,"v":0.45,"g":"o"},{"p":1090,"v":0.3,"g":"o"},{"p":1105,"v":1.0,"g":"o"},{"p":1105,"v":0.8,"g":"o"},{"p":1105,"v":0.4,"g":"o"},
{"p":1118,"v":0.5,"g":"n"},{"p":1118,"v":0.45,"g":"n"},{"p":1128,"v":0.95,"g":"n"},{"p":1128,"v":0.75,"g":"n"},{"p":1128,"v":0.65,"g":"n"},{"p":1128,"v":0.35,"g":"n"},{"p":1140,"v":0.6,"g":"n"},{"p":1140,"v":0.4,"g":"n"},
{"p":1150,"v":0.7,"g":"o"},{"p":1150,"v":0.4,"g":"o"},{"p":1150,"v":0.8,"g":"o"},{"p":1210,"v":0.65,"g":"o"},{"p":1210,"v":0.55,"g":"o"},{"p":1210,"v":0.75,"g":"o"},{"p":1210,"v":1.0,"g":"o"},{"p":1222,"v":0.5,"g":"o"},{"p":1222,"v":0.95,"g":"o"},
{"p":1245,"v":0.65,"g":"n"},{"p":1245,"v":0.35,"g":"n"},{"p":1245,"v":0.25,"g":"n"},{"p":1245,"v":0.8,"g":"n"},{"p":1245,"v":1.0,"g":"n"},{"p":1252,"v":0.55,"g":"n"},{"p":1252,"v":0.75,"g":"n"},{"p":1252,"v":0.4,"g":"n"},{"p":1252,"v":1.1,"g":"n"},{"p":1262,"v":0.6,"g":"n"},{"p":1262,"v":0.5,"g":"n"},{"p":1262,"v":0.7,"g":"n"},{"p":1275,"v":0.7,"g":"n"},{"p":1275,"v":0.9,"g":"n"},{"p":1275,"v":1.25,"g":"n"},{"p":1283,"v":0.55,"g":"n"},{"p":1283,"v":1.1,"g":"n"},
{"p":1296,"v":0.75,"g":"o"},{"p":1296,"v":0.65,"g":"o"},{"p":1296,"v":1.0,"g":"o"},{"p":1296,"v":1.15,"g":"o"},{"p":1306,"v":0.6,"g":"o"},{"p":1306,"v":0.7,"g":"o"},{"p":1306,"v":0.55,"g":"o"},{"p":1306,"v":0.25,"g":"o"},{"p":1348,"v":0.6,"g":"o"},{"p":1348,"v":0.55,"g":"o"},{"p":1348,"v":0.7,"g":"o"},{"p":1348,"v":1.1,"g":"o"},{"p":1358,"v":0.3,"g":"o"},{"p":1358,"v":0.65,"g":"o"},{"p":1365,"v":0.5,"g":"o"},{"p":1365,"v":0.25,"g":"o"}]
},
"layer":[
{"data":{"name":"ellipses"},"mark":{"type":"line","interpolate":"cardinal-closed","stroke":"#111","strokeWidth":2.2,"strokeDash":[6,4]},
"encoding":{"x":{"field":"pc1","type":"quantitative","axis":null,"scale":{"domain":[-0.1017,0.0583],"range":[124,459]}},"y":{"field":"pc2","type":"quantitative","axis":null,"scale":{"domain":[-0.563,0.822],"range":[336,63]}},"detail":{"field":"e"},"order":{"field":"i"}}},
{"data":{"name":"pca"},"mark":{"type":"point","filled":true,"opacity":1,"size":36},
"encoding":{"x":{"field":"pc1","type":"quantitative","scale":{"domain":[-0.1017,0.0583],"range":[124,459]},"axis":{"orient":"bottom","offset":-801,"title":"Principal component 1","titleFontSize":14,"titleX":308,"titleY":20,"values":[-0.1,-0.05,0,0.05],"format":".2f","domainColor":"#888","tickColor":"#888","tickSize":3,"labelFontSize":13,"labelPadding":1}},
"y":{"field":"pc2","type":"quantitative","scale":{"domain":[-0.563,0.822],"range":[336,63]},"axis":{"orient":"left","offset":-124,"title":"Principal component 2","titleFontSize":18,"titleX":-22,"titleY":161,"values":[-0.5,0,0.5],"format":".1f","domainColor":"#111","tickColor":"#888","tickSize":3,"labelFontSize":14,"labelPadding":2}},
"color":{"field":"sample","type":"nominal","scale":{"domain":["Cult164","Cult169","Cult171","Cult174","Cult175","Cult177","KEN","LA 100","RP","RY 1001","Wild161","Wild166","Wild194","Wild203","Wild204","Wild205"],"range":["#f05a6e","#e07a2e","#c08a20","#9a9a20","#70a830","#3ab03a","#40bd6e","#40c09a","#40bdb5","#45b5d8","#4a9fe0","#7a88d8","#a070c8","#b058b8","#e048b0","#f545a0"]},
"legend":{"orient":"none","legendX":473,"legendY":85,"title":null,"symbolType":"circle","symbolSize":36,"labelFont":"Liberation Serif","labelFontSize":13,"labelColor":"#222","rowPadding":1.6,"labelOffset":1}}}},
{"data":{"name":"treeBranches"},"mark":{"type":"line","stroke":"#111","strokeWidth":1},
"encoding":{"x":{"field":"x","type":"quantitative","axis":null,"scale":{"domain":[54,444],"range":[124,514]}},"y":{"field":"y","type":"quantitative","axis":null,"scale":{"domain":[-27,326],"range":[353,706]}},"detail":{"field":"b"},"order":{"field":"o"},
"strokeDash":{"field":"support","type":"nominal","legend":null,"scale":{"domain":["high","mid","fine","low"],"range":[[1,0],[2,1],[1,2],[1,4]]}}}},
{"data":{"name":"treeTips"},"mark":{"type":"point","filled":true,"opacity":1,"size":26},
"encoding":{"x":{"field":"x","type":"quantitative","axis":null,"scale":{"domain":[54,444],"range":[124,514]}},"y":{"field":"y","type":"quantitative","axis":null,"scale":{"domain":[-27,326],"range":[353,706]}},
"color":{"field":"sample","type":"nominal","legend":null,"scale":{"domain":["Cult164","Cult169","Cult171","Cult174","Cult175","Cult177","KEN","LA 100","RP","RY 1001","Wild161","Wild166","Wild194","Wild203","Wild204","Wild205"],"range":["#f05a6e","#e07a2e","#c08a20","#9a9a20","#70a830","#3ab03a","#40bd6e","#40c09a","#40bdb5","#45b5d8","#4a9fe0","#7a88d8","#a070c8","#b058b8","#e048b0","#f545a0"]}}}},
{"data":{"name":"treeTips"},"transform":[{"calculate":"atan((datum.ty-datum.y)/(datum.tx-datum.x))*180/PI","as":"labelAngle"}],"mark":{"type":"text","font":"Liberation Serif","fontSize":15,"color":"#222","align":"center","baseline":"middle"},
"encoding":{"x":{"field":"tx","type":"quantitative","axis":null,"scale":{"domain":[54,444],"range":[124,514]}},"y":{"field":"ty","type":"quantitative","axis":null,"scale":{"domain":[-27,326],"range":[353,706]}},"text":{"field":"sample"},"angle":{"field":"labelAngle","type":"quantitative","scale":null}}},
{"data":{"values":[{}]},"mark":{"type":"text","text":"0.01","font":"Liberation Serif","fontSize":15,"color":"#222"},"encoding":{"x":{"datum":105.5,"type":"quantitative","axis":null,"scale":{"domain":[54,444],"range":[124,514]}},"y":{"datum":334,"type":"quantitative","axis":null,"scale":{"domain":[-27,326],"range":[353,706]}}}},
{"data":{"name":"structure"},"transform":[{"filter":"datum.K==2"}],"mark":{"type":"bar","strokeWidth":0.6},"encoding":{"x":{"field":"s","type":"nominal","axis":null,"scale":{"type":"band","domain":["Cult174","Wild166","Cult171","RP","Cult164","LA 100","Cult175","Cult177","RY 1001","Wild161","KEN","Cult169","Wild203","Wild194","Wild204","Wild205"],"range":[599,1009],"paddingInner":0,"paddingOuter":0}},"y":{"field":"q","type":"quantitative","stack":"zero","scale":{"domain":[0,1],"range":[131,45]},"axis":{"orient":"left","offset":-599,"title":"K=2","titleAngle":0,"titleX":-38,"titleY":96,"titleFontSize":12,"titleAlign":"center","titleBaseline":"middle","labels":false,"ticks":false,"domain":false}},"order":{"field":"c"},"color":{"field":"c","type":"nominal","legend":null,"scale":{"domain":["C1","C2","C3","C4","C5","C6","C7"],"range":["#b6b08c","#80cd52","#4daae0","#7060b5","#cf84c6","#f4a97f","#55a5b8"]}},"stroke":{"field":"c","type":"nominal","legend":null,"scale":{"domain":["C1","C2","C3","C4","C5","C6","C7"],"range":["#b6b08c","#80cd52","#4daae0","#7060b5","#cf84c6","#f4a97f","#55a5b8"]}}}},
{"data":{"name":"structure"},"transform":[{"filter":"datum.K==3"}],"mark":{"type":"bar","strokeWidth":0.6},"encoding":{"x":{"field":"s","type":"nominal","axis":null,"scale":{"type":"band","domain":["Cult174","Wild166","Cult171","RP","Cult164","LA 100","Cult175","Cult177","RY 1001","Wild161","KEN","Cult169","Wild203","Wild194","Wild204","Wild205"],"range":[599,1009],"paddingInner":0,"paddingOuter":0}},"y":{"field":"q","type":"quantitative","stack":"zero","scale":{"domain":[0,1],"range":[251,167]},"axis":{"orient":"left","offset":-599,"title":"K=3","titleAngle":0,"titleX":-38,"titleY":220,"titleFontSize":12,"titleAlign":"center","titleBaseline":"middle","labels":false,"ticks":false,"domain":false}},"order":{"field":"c"},"color":{"field":"c","type":"nominal","legend":null,"scale":{"domain":["C1","C2","C3","C4","C5","C6","C7"],"range":["#b6b08c","#80cd52","#4daae0","#7060b5","#cf84c6","#f4a97f","#55a5b8"]}},"stroke":{"field":"c","type":"nominal","legend":null,"scale":{"domain":["C1","C2","C3","C4","C5","C6","C7"],"range":["#b6b08c","#80cd52","#4daae0","#7060b5","#cf84c6","#f4a97f","#55a5b8"]}}}},
{"data":{"name":"structure"},"transform":[{"filter":"datum.K==4"}],"mark":{"type":"bar","strokeWidth":0.6},"encoding":{"x":{"field":"s","type":"nominal","axis":null,"scale":{"type":"band","domain":["Cult174","Wild166","Cult171","RP","Cult164","LA 100","Cult175","Cult177","RY 1001","Wild161","KEN","Cult169","Wild203","Wild194","Wild204","Wild205"],"range":[599,1009],"paddingInner":0,"paddingOuter":0}},"y":{"field":"q","type":"quantitative","stack":"zero","scale":{"domain":[0,1],"range":[367,282]},"axis":{"orient":"left","offset":-599,"title":"K=4","titleAngle":0,"titleX":-38,"titleY":334,"titleFontSize":12,"titleAlign":"center","titleBaseline":"middle","labels":false,"ticks":false,"domain":false}},"order":{"field":"c"},"color":{"field":"c","type":"nominal","legend":null,"scale":{"domain":["C1","C2","C3","C4","C5","C6","C7"],"range":["#b6b08c","#80cd52","#4daae0","#7060b5","#cf84c6","#f4a97f","#55a5b8"]}},"stroke":{"field":"c","type":"nominal","legend":null,"scale":{"domain":["C1","C2","C3","C4","C5","C6","C7"],"range":["#b6b08c","#80cd52","#4daae0","#7060b5","#cf84c6","#f4a97f","#55a5b8"]}}}},
{"data":{"name":"structure"},"transform":[{"filter":"datum.K==5"}],"mark":{"type":"bar","strokeWidth":0.6},"encoding":{"x":{"field":"s","type":"nominal","axis":null,"scale":{"type":"band","domain":["Cult174","Wild166","Cult171","RP","Cult164","LA 100","Cult175","Cult177","RY 1001","Wild161","KEN","Cult169","Wild203","Wild194","Wild204","Wild205"],"range":[599,1009],"paddingInner":0,"paddingOuter":0}},"y":{"field":"q","type":"quantitative","stack":"zero","scale":{"domain":[0,1],"range":[482,397]},"axis":{"orient":"left","offset":-599,"title":"K=5","titleAngle":0,"titleX":-38,"titleY":450,"titleFontSize":12,"titleAlign":"center","titleBaseline":"middle","labels":false,"ticks":false,"domain":false}},"order":{"field":"c"},"color":{"field":"c","type":"nominal","legend":null,"scale":{"domain":["C1","C2","C3","C4","C5","C6","C7"],"range":["#b6b08c","#80cd52","#4daae0","#7060b5","#cf84c6","#f4a97f","#55a5b8"]}},"stroke":{"field":"c","type":"nominal","legend":null,"scale":{"domain":["C1","C2","C3","C4","C5","C6","C7"],"range":["#b6b08c","#80cd52","#4daae0","#7060b5","#cf84c6","#f4a97f","#55a5b8"]}}}},
{"data":{"name":"structure"},"transform":[{"filter":"datum.K==6"}],"mark":{"type":"bar","strokeWidth":0.6},"encoding":{"x":{"field":"s","type":"nominal","axis":null,"scale":{"type":"band","domain":["Cult174","Wild166","Cult171","RP","Cult164","LA 100","Cult175","Cult177","RY 1001","Wild161","KEN","Cult169","Wild203","Wild194","Wild204","Wild205"],"range":[600,1009],"paddingInner":0,"paddingOuter":0}},"y":{"field":"q","type":"quantitative","stack":"zero","scale":{"domain":[0,1],"range":[597,513]},"axis":{"orient":"left","offset":-599,"title":"K=6","titleAngle":0,"titleX":-38,"titleY":565,"titleFontSize":12,"titleAlign":"center","titleBaseline":"middle","labels":false,"ticks":false,"domain":false}},"order":{"field":"c"},"color":{"field":"c","type":"nominal","legend":null,"scale":{"domain":["C1","C2","C3","C4","C5","C6","C7"],"range":["#b6b08c","#80cd52","#4daae0","#7060b5","#cf84c6","#f4a97f","#55a5b8"]}},"stroke":{"field":"c","type":"nominal","legend":null,"scale":{"domain":["C1","C2","C3","C4","C5","C6","C7"],"range":["#b6b08c","#80cd52","#4daae0","#7060b5","#cf84c6","#f4a97f","#55a5b8"]}}}},
{"data":{"name":"structure"},"transform":[{"filter":"datum.K==7"}],"mark":{"type":"bar","strokeWidth":0.6},"encoding":{"x":{"field":"s","type":"nominal","scale":{"type":"band","domain":["Cult174","Wild166","Cult171","RP","Cult164","LA 100","Cult175","Cult177","RY 1001","Wild161","KEN","Cult169","Wild203","Wild194","Wild204","Wild205"],"range":[600,1009],"paddingInner":0,"paddingOuter":0},"axis":{"orient":"bottom","offset":-431,"title":null,"labelAngle":-55,"labelAlign":"right","labelBaseline":"middle","labelFontSize":15,"labelPadding":10,"ticks":false,"domain":false,"labelOverlap":false}},"y":{"field":"q","type":"quantitative","stack":"zero","scale":{"domain":[0,1],"range":[706,629]},"axis":{"orient":"left","offset":-599,"title":"K=7","titleAngle":0,"titleX":-38,"titleY":677,"titleFontSize":12,"titleAlign":"center","titleBaseline":"middle","labels":false,"ticks":false,"domain":false}},"order":{"field":"c"},"color":{"field":"c","type":"nominal","legend":null,"scale":{"domain":["C1","C2","C3","C4","C5","C6","C7"],"range":["#b6b08c","#80cd52","#4daae0","#7060b5","#cf84c6","#f4a97f","#55a5b8"]}},"stroke":{"field":"c","type":"nominal","legend":null,"scale":{"domain":["C1","C2","C3","C4","C5","C6","C7"],"range":["#b6b08c","#80cd52","#4daae0","#7060b5","#cf84c6","#f4a97f","#55a5b8"]}}}},
{"data":{"name":"gaps"},"transform":[{"filter":"datum.K==2"}],"mark":{"type":"rule","stroke":"white","strokeWidth":1.2},"encoding":{"x":{"field":"s","type":"nominal","bandPosition":0,"axis":null,"scale":{"type":"band","domain":["Cult174","Wild166","Cult171","RP","Cult164","LA 100","Cult175","Cult177","RY 1001","Wild161","KEN","Cult169","Wild203","Wild194","Wild204","Wild205"],"range":[599,1009],"paddingInner":0,"paddingOuter":0}},"y":{"datum":0,"type":"quantitative","axis":null,"scale":{"domain":[0,1],"range":[131,45]}},"y2":{"datum":1}}},
{"data":{"name":"gaps"},"transform":[{"filter":"datum.K==3"}],"mark":{"type":"rule","stroke":"white","strokeWidth":1.2},"encoding":{"x":{"field":"s","type":"nominal","bandPosition":0,"axis":null,"scale":{"type":"band","domain":["Cult174","Wild166","Cult171","RP","Cult164","LA 100","Cult175","Cult177","RY 1001","Wild161","KEN","Cult169","Wild203","Wild194","Wild204","Wild205"],"range":[599,1009],"paddingInner":0,"paddingOuter":0}},"y":{"datum":0,"type":"quantitative","axis":null,"scale":{"domain":[0,1],"range":[251,167]}},"y2":{"datum":1}}},
{"data":{"name":"gaps"},"transform":[{"filter":"datum.K==4"}],"mark":{"type":"rule","stroke":"white","strokeWidth":1.2},"encoding":{"x":{"field":"s","type":"nominal","bandPosition":0,"axis":null,"scale":{"type":"band","domain":["Cult174","Wild166","Cult171","RP","Cult164","LA 100","Cult175","Cult177","RY 1001","Wild161","KEN","Cult169","Wild203","Wild194","Wild204","Wild205"],"range":[599,1009],"paddingInner":0,"paddingOuter":0}},"y":{"datum":0,"type":"quantitative","axis":null,"scale":{"domain":[0,1],"range":[367,282]}},"y2":{"datum":1}}},
{"data":{"name":"gaps"},"transform":[{"filter":"datum.K==5"}],"mark":{"type":"rule","stroke":"white","strokeWidth":1.2},"encoding":{"x":{"field":"s","type":"nominal","bandPosition":0,"axis":null,"scale":{"type":"band","domain":["Cult174","Wild166","Cult171","RP","Cult164","LA 100","Cult175","Cult177","RY 1001","Wild161","KEN","Cult169","Wild203","Wild194","Wild204","Wild205"],"range":[599,1009],"paddingInner":0,"paddingOuter":0}},"y":{"datum":0,"type":"quantitative","axis":null,"scale":{"domain":[0,1],"range":[482,397]}},"y2":{"datum":1}}},
{"data":{"name":"fstDensity"},"mark":{"type":"area","color":"#4fa9e2","opacity":1,"stroke":"#2f6f8f","strokeWidth":1},"encoding":{"x":{"field":"f","type":"quantitative","axis":null,"scale":{"domain":[-0.003,0.519],"range":[124,298]}},"y":{"field":"d","type":"quantitative","axis":null,"scale":{"domain":[0,2.68],"range":[899,810]}}}},
{"data":{"name":"cloud"},"mark":{"type":"area","color":"#ee2a2e","opacity":1},"encoding":{"x":{"field":"f","type":"quantitative","scale":{"domain":[-0.0279,0.8315],"range":[124,442]},"axis":{"orient":"bottom","offset":-67,"title":"FST","titleFontSize":12,"titleX":285.7,"titleY":31,"values":[0,0.2,0.4,0.6,0.8],"format":".1f","tickColor":"#333","tickSize":5,"domain":false,"labelFontSize":15,"labelPadding":2}},"y":{"field":"hi","type":"quantitative","scale":{"domain":[-3.205,3.205],"range":[1070,903]},"axis":{"orient":"left","offset":-122,"title":"log2(θπ)","titleFontSize":12,"titleX":-40,"titleY":982,"values":[-3,-2,-1,0,1,2,3],"format":".2f","ticks":false,"domainColor":"#111","labelFontSize":10,"labelPadding":12}},"y2":{"field":"lo"}}},
{"data":{"name":"outliers"},"mark":{"type":"point","shape":"square","filled":true,"opacity":1,"size":8,"color":"#ee2a2e"},"encoding":{"x":{"field":"f","type":"quantitative","axis":null,"scale":{"domain":[-0.0279,0.8315],"range":[124,442]}},"y":{"field":"r","type":"quantitative","axis":null,"scale":{"domain":[-3.205,3.205],"range":[1070,903]}}}},
{"data":{"values":[{}]},"mark":{"type":"rule","stroke":"#111","strokeDash":[2,3],"strokeWidth":1},"encoding":{"x":{"datum":0.249,"type":"quantitative","axis":null,"scale":{"domain":[-0.0279,0.8315],"range":[124,442]}},"y":{"datum":3.2,"type":"quantitative","axis":null,"scale":{"domain":[-3.205,3.205],"range":[1070,903]}},"y2":{"datum":-3.2}}},
{"data":{"values":[{}]},"mark":{"type":"rule","stroke":"#5a1418","strokeDash":[3,3],"strokeWidth":1},"encoding":{"y":{"datum":0.96,"type":"quantitative","axis":null,"scale":{"domain":[-3.205,3.205],"range":[1070,903]}},"x":{"datum":0.01,"type":"quantitative","axis":null,"scale":{"domain":[-0.0279,0.8315],"range":[124,442]}},"x2":{"datum":0.4}}},
{"data":{"name":"ratioDensity"},"mark":{"type":"area","orient":"horizontal","color":"#f15025","opacity":1,"stroke":"#7a3020","strokeWidth":1},"encoding":{"x":{"field":"d","type":"quantitative","axis":null,"scale":{"domain":[0,3.57],"range":[446,565]}},"y":{"field":"r","type":"quantitative","scale":{"domain":[-3.205,3.205],"range":[1070,903]},"axis":{"orient":"left","offset":-442,"title":null,"labels":false,"ticks":false,"domainColor":"#111"}}}},
{"data":{"values":[{}]},"mark":{"type":"rule","stroke":"#111","strokeWidth":1},"encoding":{"x":{"datum":0,"type":"quantitative","axis":null,"scale":{"domain":[0,3.57],"range":[446,565]}},"y":{"datum":3.2,"type":"quantitative","axis":null,"scale":{"domain":[-3.205,3.205],"range":[1070,903]}},"y2":{"datum":-3.2}}},
{"data":{"name":"snps"},"mark":{"type":"point","shape":"square","filled":true,"opacity":1,"size":3},"encoding":{"x":{"field":"p","type":"quantitative","scale":{"domain":[166,1372],"range":[605,1007]},"axis":{"orient":"bottom","offset":-54,"title":"Chromosomes","titleFontSize":15,"titleX":841,"titleY":20,"domain":false,"tickSize":3,"tickColor":"#555","labelFontSize":14,"labelPadding":3,"labelOverlap":false,"values":[231,298,349,412,478,537,606,690,768,847,920,975,1030,1080,1130,1192,1272,1338],"labelExpr":"{231:'1',298:'2',349:'3',412:'4',478:'5',537:'6',606:'7',690:'8',768:'9',847:'10',920:'11',975:'12',1030:'13',1080:'14',1130:'15',1192:'16',1272:'17',1338:'18'}[datum.value]"}},"y":{"field":"v","type":"quantitative","scale":{"domain":[0,4.01],"range":[1083,832]},"axis":{"orient":"left","offset":-605,"title":"-log10(P)","titleFontSize":12,"titleX":-26,"titleY":948,"values":[0,1,2,3,4],"format":"d","ticks":false,"domainColor":"#111","labelFontSize":14,"labelPadding":8}},"color":{"field":"g","type":"nominal","legend":null,"scale":{"domain":["n","o","r"],"range":["#34386e","#c8821e","#c0304a"]}}}},
{"data":{"name":"snpStreaks"},"mark":{"type":"rule","strokeWidth":1.3},"encoding":{"x":{"field":"p","type":"quantitative","axis":null,"scale":{"domain":[166,1372],"range":[605,1007]}},"y":{"field":"v","type":"quantitative","axis":null,"scale":{"domain":[0,4.01],"range":[1083,832]}},"y2":{"field":"v2"},"color":{"field":"g","type":"nominal","legend":null,"scale":{"domain":["n","o","r"],"range":["#34386e","#c8821e","#c0304a"]}}}},
{"data":{"values":[{}]},"mark":{"type":"text","text":"A","font":"Liberation Sans","fontSize":22,"color":"#111"},"encoding":{"x":{"datum":-0.1132,"type":"quantitative","axis":null,"scale":{"domain":[-0.1017,0.0583],"range":[124,459]}},"y":{"datum":0.88,"type":"quantitative","axis":null,"scale":{"domain":[-0.563,0.822],"range":[336,63]}}}},
{"data":{"values":[{}]},"mark":{"type":"text","text":"B","font":"Liberation Sans","fontSize":22,"color":"#111"},"encoding":{"x":{"datum":-1.48,"type":"quantitative","axis":null,"scale":{"domain":[0,16],"range":[599,1009]}},"y":{"datum":0.94,"type":"quantitative","axis":null,"scale":{"domain":[0,1],"range":[131,45]}}}},
{"data":{"values":[{}]},"mark":{"type":"text","text":"C","font":"Liberation Sans","fontSize":22,"color":"#111"},"encoding":{"x":{"datum":30,"type":"quantitative","axis":null,"scale":{"domain":[54,444],"range":[124,514]}},"y":{"datum":5,"type":"quantitative","axis":null,"scale":{"domain":[-27,326],"range":[353,706]}}}},
{"data":{"values":[{}]},"mark":{"type":"text","text":"D","font":"Liberation Sans","fontSize":22,"color":"#111"},"encoding":{"x":{"datum":-0.075,"type":"quantitative","axis":null,"scale":{"domain":[-0.003,0.519],"range":[124,298]}},"y":{"datum":2.58,"type":"quantitative","axis":null,"scale":{"domain":[0,2.68],"range":[899,810]}}}},
{"data":{"values":[{}]},"mark":{"type":"text","text":"E","font":"Liberation Sans","fontSize":22,"color":"#111"},"encoding":{"x":{"datum":33,"type":"quantitative","axis":null,"scale":{"domain":[166,1372],"range":[605,1007]}},"y":{"datum":4.2,"type":"quantitative","axis":null,"scale":{"domain":[0,4.01],"range":[1083,832]}}}}
]
}
